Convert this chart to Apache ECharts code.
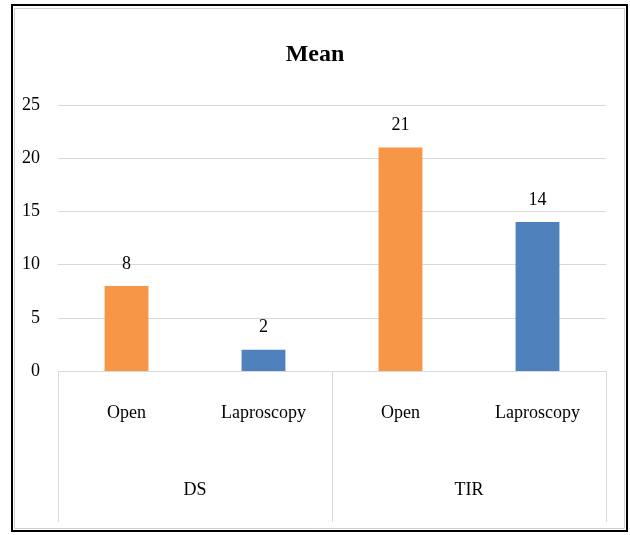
<!DOCTYPE html>
<html>
<head>
    <meta charset="UTF-8">
    <title>Mean</title>
    <style>
        body { margin: 0; background: white; }
        #chart { width: 630px; height: 535px; }
    </style>
    <script src="https://cdn.jsdelivr.net/npm/echarts@6/dist/echarts.min.js"></script>
</head>
<body>
<div id="chart"></div>
<script>
    var methods = ['Open', 'Laproscopy', 'Open', 'Laproscopy'];
    var groups = ['DS', 'TIR'];
    var means = [8, 2, 21, 14];
    var barColors = ['#F79646', '#4F81BD', '#F79646', '#4F81BD'];
    var yTicks = [0, 5, 10, 15, 20, 25];

    var chart = echarts.init(document.getElementById('chart'));
    var font = 'Liberation Serif';

    var option = {
        backgroundColor: 'white',
        textStyle: { fontFamily: font },
        title: {
            text: 'Mean',
            left: 'center',
            top: 38,
            textStyle: { fontFamily: font, fontSize: 24, fontWeight: 'bold', color: '#000' }
        },
        graphic: [
            { type: 'rect', shape: { x: 12, y: 5, width: 615, height: 526 },
              style: { fill: 'none', stroke: '#000', lineWidth: 2 }, z: 10 },
            { type: 'rect', shape: { x: 14.5, y: 8.5, width: 610, height: 520 },
              style: { fill: 'none', stroke: '#d0d0d0', lineWidth: 1 }, z: 10 }
        ],
        grid: { left: 58, right: 24, top: 105, bottom: 164 },
        xAxis: [
            {
                type: 'category',
                data: methods,
                position: 'bottom',
                axisLine: { lineStyle: { color: '#d9d9d9' } },
                axisTick: { show: false },
                axisLabel: { color: '#000', fontSize: 18, fontFamily: font, margin: 33 }
            },
            {
                type: 'category',
                data: groups,
                position: 'bottom',
                axisLine: { show: false },
                axisTick: { show: true, length: 151, lineStyle: { color: '#d9d9d9' } },
                axisLabel: { color: '#000', fontSize: 18, fontFamily: font, margin: 110 }
            }
        ],
        yAxis: {
            type: 'value',
            min: yTicks[0],
            max: yTicks[yTicks.length - 1],
            interval: 5,
            axisLine: { show: false },
            axisTick: { show: false },
            axisLabel: { color: '#000', fontSize: 18, fontFamily: font, margin: 18 },
            splitLine: { lineStyle: { color: '#d9d9d9' } }
        },
        series: [{
            type: 'bar',
            xAxisIndex: 0,
            barWidth: '32%',
            data: means.map(function (v, i) {
                return { value: v, itemStyle: { color: barColors[i] } };
            }),
            label: {
                show: true,
                position: 'top',
                distance: 13,
                color: '#000',
                fontSize: 18,
                fontFamily: font
            }
        }]
    };
    chart.setOption(option);
</script>
</body>
</html>
